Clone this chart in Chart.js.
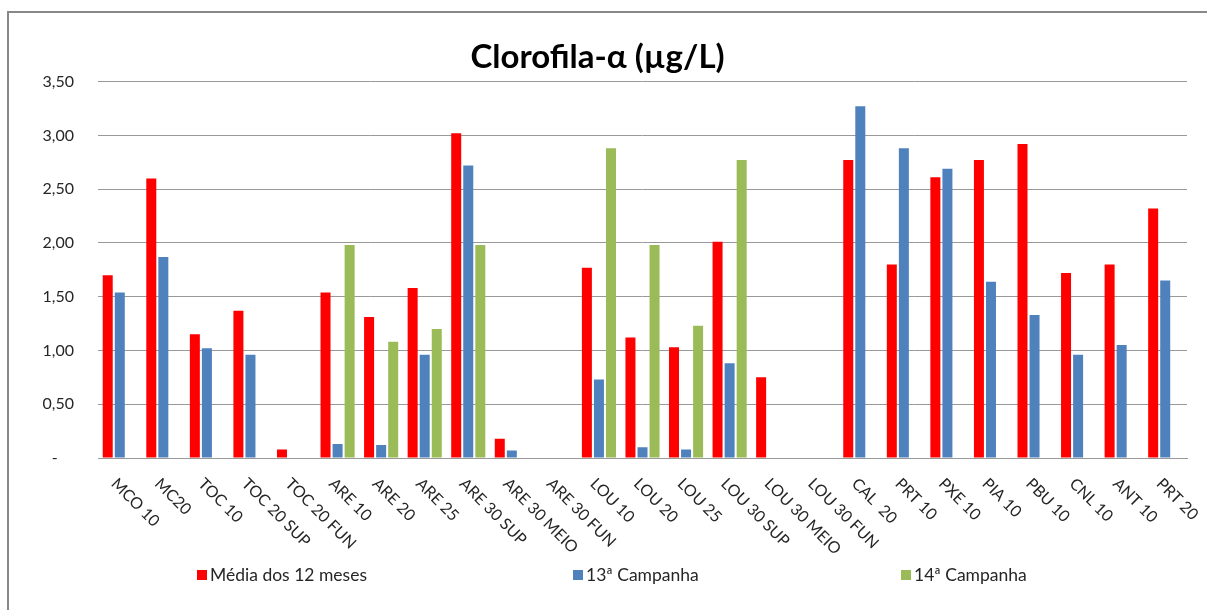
<!DOCTYPE html>
<html>
<head>
<meta charset="utf-8">
<script src="https://cdn.jsdelivr.net/npm/chart.js@4.4.1/dist/chart.umd.min.js"></script>
<style>
  html, body { margin: 0; padding: 0; background: #fff; }
  #wrap { width: 1207px; height: 610px; position: relative; }
</style>
</head>
<body>
<div id="wrap"><canvas id="chart" width="1207" height="610"></canvas></div>
<script>
// stations sampled
const estacoes = ["MCO 10", "MC20", "TOC 10", "TOC 20 SUP", "TOC 20 FUN", "ARE 10", "ARE 20", "ARE 25",
  "ARE 30 SUP", "ARE 30 MEIO", "ARE 30 FUN", "LOU 10", "LOU 20", "LOU 25", "LOU 30 SUP", "LOU 30 MEIO",
  "LOU 30 FUN", "CAL  20", "PRT 10", "PXE 10", "PIA 10", "PBU 10", "CNL 10", "ANT 10", "PRT 20"];

const media12 = [1.70, 2.60, 1.15, 1.37, 0.08, 1.54, 1.31, 1.58, 3.02, 0.18, null, 1.77, 1.12, 1.03, 2.01, 0.75,
  null, 2.77, 1.80, 2.61, 2.77, 2.92, 1.72, 1.80, 2.32];
const campanha13 = [1.54, 1.87, 1.02, 0.96, null, 0.13, 0.12, 0.96, 2.72, 0.07, null, 0.73, 0.10, 0.08, 0.88, null,
  null, 3.27, 2.88, 2.69, 1.64, 1.33, 0.96, 1.05, 1.65];
const campanha14 = [null, null, null, null, null, 1.98, 1.08, 1.20, 1.98, null, null, 2.88, 1.98, 1.23, 2.77, null,
  null, null, null, null, null, null, null, null, null];

const yTicks = ["-", "0,50", "1,00", "1,50", "2,00", "2,50", "3,00", "3,50"];

const FONT = "Lato, 'Open Sans', sans-serif";

// outer frame (left + top only, like the source)
const framePlugin = {
  id: "frame",
  beforeDraw(chart) {
    const c = chart.ctx;
    c.save();
    c.strokeStyle = "#888888";
    c.lineWidth = 2;
    c.beginPath();
    c.moveTo(8, chart.height);
    c.lineTo(8, 12);
    c.lineTo(chart.width, 12);
    c.stroke();
    c.restore();
  }
};

// x labels go down to the right, starting at the tick
const xLabelPlugin = {
  id: "xlabels",
  afterDraw(chart) {
    const c = chart.ctx;
    const xs = chart.scales.x;
    const base = chart.chartArea.bottom;
    c.save();
    c.font = "16px " + FONT;
    c.fillStyle = "#262626";
    c.textAlign = "left";
    c.textBaseline = "middle";
    for (let i = 0; i < estacoes.length; i++) {
      const x = xs.getPixelForTick(i);
      c.save();
      c.translate(x - 6, base + 23);
      c.rotate(Math.PI / 4);
      c.fillText(estacoes[i], 0, 0);
      c.restore();
    }
    c.restore();
  }
};

// legend spread out along the bottom
const legendPlugin = {
  id: "spreadLegend",
  afterDraw(chart) {
    const c = chart.ctx;
    const xs = [197, 573, 901];
    const y = 575;
    c.save();
    c.font = "17.5px " + FONT;
    c.textBaseline = "middle";
    c.textAlign = "left";
    chart.data.datasets.forEach((ds, i) => {
      c.fillStyle = ds.backgroundColor;
      c.fillRect(xs[i], y - 5, 10, 10);
      c.fillStyle = "#262626";
      c.fillText(ds.label, xs[i] + 13, y);
    });
    c.restore();
  }
};

new Chart(document.getElementById("chart"), {
  type: "bar",
  data: {
    labels: estacoes,
    datasets: [
      { label: "Média dos 12 meses", data: media12, backgroundColor: "#FF0000" },
      { label: "13ª Campanha", data: campanha13, backgroundColor: "#4F81BD" },
      { label: "14ª Campanha", data: campanha14, backgroundColor: "#9BBB59" }
    ]
  },
  options: {
    responsive: false,
    animation: false,
    devicePixelRatio: 1,
    categoryPercentage: 0.83,
    barPercentage: 0.83,
    layout: { padding: { top: 12, left: 8, right: 20, bottom: 12 } },
    plugins: {
      legend: { display: false },
      tooltip: { enabled: false },
      title: {
        display: true,
        text: "Clorofila-α (µg/L)",
        color: "#000",
        font: { family: FONT, size: 33, weight: "bold" },
        padding: { top: 26, bottom: 4 }
      }
    },
    scales: {
      x: {
        ticks: { display: false },
        grid: { display: false },
        border: { color: "#999999", width: 1 },
        afterFit(scale) { scale.height = 140; }
      },
      y: {
        min: 0,
        max: 3.5,
        ticks: {
          stepSize: 0.5,
          padding: 24,
          color: "#262626",
          font: { family: FONT, size: 16 },
          callback: (v, i) => yTicks[i] + (i === 0 ? "    " : "")
        },
        grid: { color: "#999999", lineWidth: 1, drawTicks: false },
        border: { display: false },
        afterFit(scale) { scale.width = 90; }
      }
    }
  },
  plugins: [framePlugin, xLabelPlugin, legendPlugin]
});
</script>
</body>
</html>
